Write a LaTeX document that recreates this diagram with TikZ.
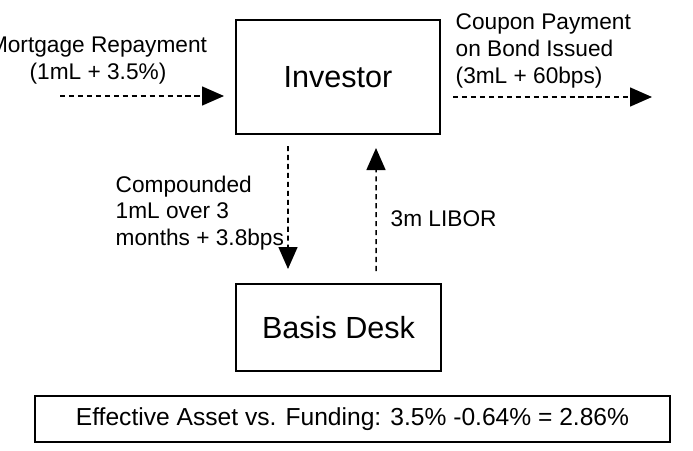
\documentclass[tikz,border=0pt]{standalone}
\usepackage{fontspec}
\setmainfont{Liberation Sans}
\usetikzlibrary{arrows.meta}

\tikzset{
  entity/.style={draw, line width=0.57pt, inner sep=0pt,
    font=\fontsize{8.7}{10}\selectfont},
  flow/.style={line width=0.43pt, dash pattern=on 1.45pt off 1.1pt,
    -{Triangle[length=0.22cm,width=0.19cm]}},
  note/.style={inner sep=0pt, font=\fontsize{6.45}{7.6}\selectfont}
}

\begin{document}
\begin{tikzpicture}

\useasboundingbox (0,0) rectangle (6.93,4.50);

% Boites
\node[entity, minimum width=2.04cm, minimum height=1.14cm] (inv) at (3.38,3.73)
{Investor};

\node[entity, minimum width=2.05cm, minimum height=0.87cm] (desk) at (3.385,1.225)
{Basis Desk};

\node[entity, minimum width=6.35cm, minimum height=0.46cm,
  font=\fontsize{7.0}{8.4}\selectfont] (result) at (3.525,0.31)
{Effective Asset vs. Funding: 3.5\% -0.64\% = 2.86\%};

% Extremites libres
\coordinate (mortgage) at (0.60,3.54);
\coordinate (coupon) at (6.52,3.53);

% Fleches
\draw[flow, shorten >=0.11cm]
(mortgage)
--
(mortgage -| inv.west);

\draw[flow, shorten <=0.12cm]
(coupon -| inv.east)
--
(coupon);

\draw[flow, shorten <=0.11cm, shorten >=0.14cm]
([xshift=-0.50cm]inv.south)
--
([xshift=-0.505cm]desk.north);

\draw[flow, shorten <=0.12cm, shorten >=0.13cm]
([xshift=0.375cm]desk.north)
--
([xshift=0.38cm]inv.south);

% Textes
\node[note, anchor=north, align=center] (mortgagetxt) at (0.98,4.133)
{Mortgage Repayment\\(1mL + 3.5\%)};

\node[note, anchor=north west, align=left] (coupontxt) at (4.55,4.367)
{Coupon Payment\\on Bond Issued\\(3mL + 60bps)};

\node[note, anchor=north west, align=left] (comptxt) at (1.15,2.75)
{Compounded\\1mL over 3\\months + 3.8bps};

\node[note, anchor=west] (libortxt) at (3.90,2.31)
{3m LIBOR};

\end{tikzpicture}
\end{document}
